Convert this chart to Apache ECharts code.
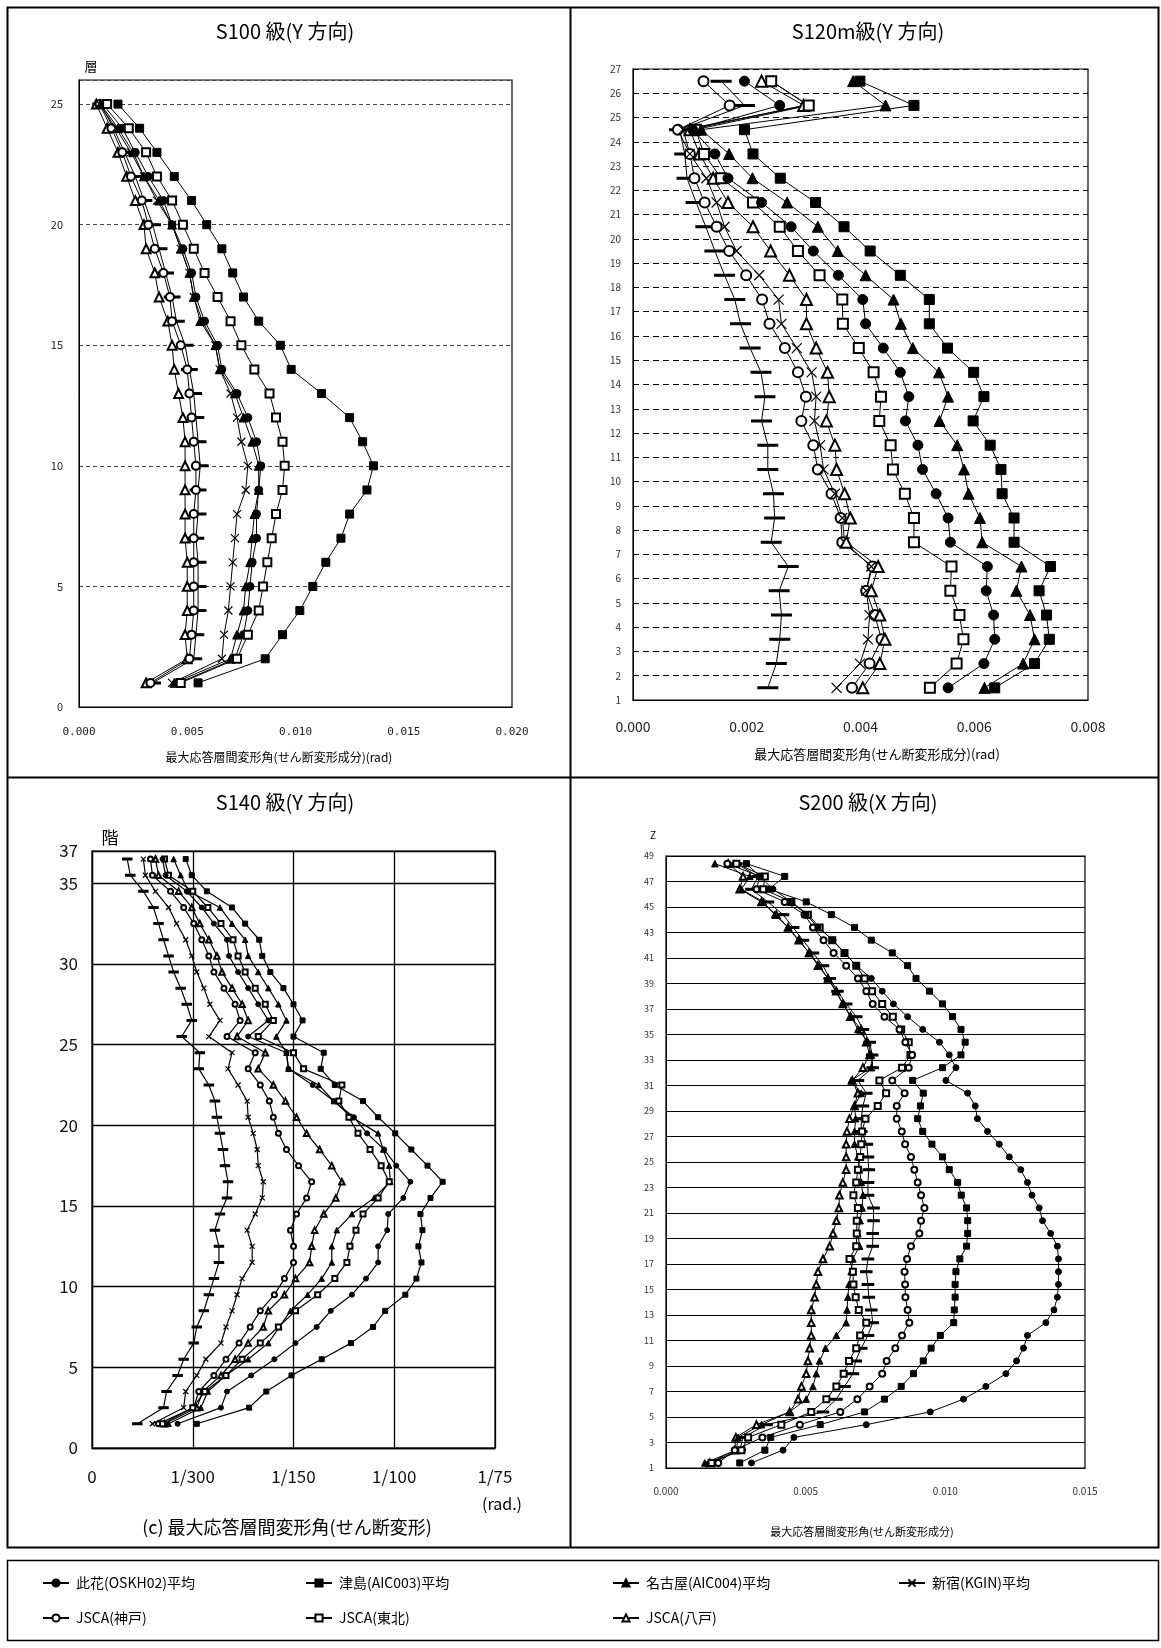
<!DOCTYPE html>
<html>
<head>
<meta charset="utf-8">
<script src="https://cdn.jsdelivr.net/npm/echarts@6/dist/echarts.min.js"></script>
<style>
html,body{margin:0;padding:0;background:#fff}
#c{width:1161px;height:1648px}
</style>
</head>
<body>
<div id="c"></div>
<script>
// ---- Storey levels -------------------------------------------------------
const s100Floors = [1,2,3,4,5,6,7,8,9,10,11,12,13,14,15,16,17,18,19,20,21,22,23,24,25];
const s120Floors = [1.5,2.5,3.5,4.5,5.5,6.5,7.5,8.5,9.5,10.5,11.5,12.5,13.5,14.5,15.5,16.5,17.5,18.5,19.5,20.5,21.5,22.5,23.5,24.5,25.5,26.5];
const s140Floors = [1.5,2.5,3.5,4.5,5.5,6.5,7.5,8.5,9.5,10.5,11.5,12.5,13.5,14.5,15.5,16.5,17.5,18.5,19.5,20.5,21.5,22.5,23.5,24.5,25.5,26.5,27.5,28.5,29.5,30.5,31.5,32.5,33.5,34.5,35.5,36.5];
const s200Floors = [1.4,2.4,3.4,4.4,5.4,6.4,7.4,8.4,9.4,10.4,11.4,12.4,13.4,14.4,15.4,16.4,17.4,18.4,19.4,20.4,21.4,22.4,23.4,24.4,25.4,26.4,27.4,28.4,29.4,30.4,31.4,32.4,33.4,34.4,35.4,36.4,37.4,38.4,39.4,40.4,41.4,42.4,43.4,44.4,45.4,46.4,47.4,48.4];

// ---- S100 (Y), drift in 1e-3 rad ----------------------------------------
const s100Konohana = [4.6,7.2,7.6,7.8,7.9,8.0,8.2,8.2,8.3,8.4,8.2,7.8,7.3,6.6,6.4,5.8,5.4,5.2,4.8,4.3,3.9,3.2,2.6,2.0,1.1];
const s100Tsushima = [5.5,8.6,9.4,10.2,10.8,11.4,12.1,12.5,13.3,13.6,13.1,12.5,11.2,9.8,9.3,8.3,7.6,7.1,6.6,5.9,5.2,4.4,3.6,2.8,1.8];
const s100Nagoya   = [4.4,7.0,7.3,7.6,7.7,7.9,8.0,8.1,8.3,8.3,8.0,7.6,7.2,6.5,6.3,5.6,5.3,5.1,4.7,4.3,3.7,3.0,2.5,1.8,1.0];
const s100Shinjuku = [4.3,6.6,6.7,6.9,7.0,7.1,7.2,7.3,7.7,7.8,7.5,7.3,7.0,6.5,6.3,5.7,5.3,5.1,4.7,4.3,3.6,3.0,2.4,1.7,0.95];
const s100Kobe     = [3.3,5.1,5.2,5.3,5.3,5.3,5.3,5.3,5.4,5.4,5.3,5.2,5.1,5.0,4.7,4.3,4.2,3.9,3.5,3.2,2.9,2.4,2.0,1.5,0.95];
const s100Tohoku   = [4.7,7.3,7.8,8.3,8.5,8.7,8.9,9.1,9.4,9.5,9.4,9.1,8.8,8.1,7.5,7.0,6.4,5.8,5.3,4.8,4.3,3.6,3.1,2.3,1.3];
const s100Hachinohe= [3.1,5.0,4.9,5.0,5.0,5.0,4.9,4.9,4.9,4.9,4.9,4.8,4.6,4.4,4.3,4.1,3.7,3.5,3.1,3.0,2.6,2.2,1.8,1.3,0.8];
const s100Extra    = [3.4,5.3,5.4,5.5,5.5,5.5,5.4,5.5,5.5,5.6,5.5,5.4,5.3,5.1,4.9,4.5,4.3,4.0,3.7,3.4,3.0,2.6,2.1,1.6,1.0];

// ---- S120m (Y), drift in 1e-3 rad ---------------------------------------
const s120Konohana = [5.54,6.17,6.36,6.34,6.21,6.23,5.58,5.54,5.33,5.09,5.01,4.79,4.85,4.70,4.40,4.09,4.04,3.61,3.17,2.78,2.26,1.67,1.44,1.05,2.58,1.96];
const s120Tsushima = [6.36,7.06,7.32,7.27,7.14,7.34,6.70,6.70,6.49,6.47,6.28,5.98,6.17,5.99,5.53,5.21,5.21,4.70,4.17,3.71,3.21,2.59,2.11,1.96,4.94,3.99];
const s120Nagoya   = [6.18,6.86,7.06,6.98,6.74,6.83,6.14,6.10,5.90,5.82,5.70,5.39,5.54,5.38,4.92,4.71,4.58,4.09,3.60,3.25,2.71,2.10,1.69,1.20,4.44,3.87];
const s120Shinjuku = [3.58,3.99,4.13,4.16,4.10,4.19,3.72,3.68,3.55,3.35,3.29,3.19,3.22,3.14,2.88,2.61,2.56,2.22,1.82,1.61,1.47,1.29,1.00,0.88,3.08,2.43];
const s120Kobe     = [3.85,4.16,4.37,4.25,4.10,4.21,3.68,3.65,3.49,3.25,3.17,2.96,3.04,2.90,2.67,2.40,2.27,1.99,1.69,1.47,1.26,1.08,1.00,0.79,1.70,1.24];
const s120Tohoku   = [5.22,5.69,5.81,5.74,5.58,5.60,4.94,4.94,4.78,4.57,4.53,4.33,4.36,4.23,3.97,3.69,3.68,3.28,2.90,2.58,2.11,1.55,1.25,1.10,3.09,2.43];
const s120Hachinohe= [4.04,4.34,4.43,4.34,4.19,4.31,3.75,3.82,3.72,3.58,3.55,3.40,3.45,3.42,3.22,3.05,3.05,2.75,2.42,2.11,1.67,1.41,1.17,1.00,3.00,2.26];
const s120Extra    = [2.37,2.52,2.58,2.61,2.57,2.73,2.43,2.49,2.47,2.37,2.37,2.26,2.32,2.25,2.06,1.89,1.79,1.61,1.44,1.28,1.11,0.95,0.91,0.82,1.96,1.55];

// ---- S140 (Y), drift in multiples of 1/300 rad --------------------------
const s140Konohana = [0.85,1.28,1.34,1.58,1.81,2.02,2.23,2.37,2.58,2.72,2.84,2.84,2.93,2.94,3.09,3.16,3.02,2.90,2.73,2.60,2.40,2.19,1.95,1.93,1.55,1.75,1.65,1.55,1.45,1.36,1.34,1.21,1.09,0.94,0.73,0.70];
const s140Tsushima = [1.04,1.56,1.73,1.98,2.28,2.57,2.79,2.91,3.11,3.22,3.27,3.24,3.28,3.26,3.36,3.48,3.33,3.17,3.01,2.84,2.69,2.41,2.27,2.30,2.00,2.09,2.00,1.90,1.77,1.69,1.66,1.52,1.39,1.14,0.99,0.93];
const s140Nagoya   = [0.76,1.08,1.15,1.33,1.55,1.75,1.86,1.97,2.14,2.28,2.38,2.38,2.43,2.58,2.80,2.96,2.95,2.89,2.84,2.58,2.40,2.25,1.95,1.93,1.83,1.93,1.85,1.75,1.65,1.55,1.52,1.39,1.27,0.96,0.88,0.81];
const s140Shinjuku = [0.60,0.91,0.93,1.04,1.13,1.28,1.33,1.39,1.44,1.49,1.59,1.59,1.54,1.62,1.69,1.70,1.65,1.64,1.60,1.55,1.54,1.45,1.35,1.39,1.16,1.27,1.17,1.11,1.04,0.99,0.93,0.84,0.76,0.63,0.53,0.51];
const s140Kobe     = [0.66,1.01,1.06,1.21,1.33,1.46,1.57,1.67,1.81,1.91,2.00,2.00,1.97,2.03,2.13,2.18,2.05,1.93,1.85,1.80,1.76,1.67,1.55,1.62,1.34,1.47,1.42,1.31,1.21,1.16,1.09,1.01,0.91,0.78,0.60,0.58];
const s140Tohoku   = [0.70,1.00,1.12,1.33,1.49,1.67,1.85,2.02,2.24,2.41,2.53,2.56,2.62,2.69,2.84,2.95,2.87,2.76,2.64,2.55,2.45,2.48,2.10,2.00,1.65,1.80,1.72,1.62,1.52,1.45,1.40,1.28,1.15,1.00,0.76,0.72];
const s140Hachinohe= [0.72,1.04,1.10,1.28,1.42,1.55,1.70,1.75,1.91,2.02,2.16,2.18,2.21,2.30,2.42,2.48,2.38,2.26,2.13,2.03,1.92,1.80,1.65,1.72,1.44,1.55,1.49,1.39,1.29,1.24,1.16,1.07,0.99,0.86,0.66,0.63];
const s140Extra    = [0.45,0.71,0.74,0.85,0.91,1.01,1.04,1.11,1.16,1.21,1.26,1.26,1.22,1.27,1.34,1.35,1.32,1.30,1.27,1.24,1.22,1.16,1.06,1.07,0.89,0.99,0.94,0.88,0.81,0.76,0.71,0.66,0.61,0.51,0.38,0.35];

// ---- S200 (X), drift in 1e-3 rad ----------------------------------------
const s200Konohana = [3.06,4.19,4.58,7.17,9.46,10.65,11.45,12.17,12.55,12.80,12.94,13.60,13.89,14.01,14.05,14.05,14.05,14.01,13.77,13.48,13.36,13.10,12.94,12.70,12.29,11.93,11.51,11.15,11.07,10.80,10.02,10.38,10.14,9.79,9.19,8.65,8.14,7.74,7.35,6.81,6.39,5.98,5.44,5.02,4.49,3.83,3.36,2.88];
const s200Tsushima = [2.64,3.54,3.75,5.52,7.11,7.82,8.42,8.86,9.21,9.49,9.82,10.30,10.32,10.35,10.35,10.38,10.52,10.76,10.80,10.80,10.76,10.57,10.44,10.14,9.90,9.52,9.19,9.01,9.11,9.21,8.83,9.90,10.56,10.71,10.56,10.26,9.90,9.43,8.95,8.65,8.10,7.35,6.75,5.92,5.02,3.69,4.25,2.88];
const s200Nagoya   = [1.39,2.52,2.58,3.42,4.43,5.02,5.26,5.38,5.50,5.71,6.10,6.45,6.48,6.51,6.55,6.63,6.69,6.93,6.87,6.95,7.02,7.05,6.99,6.93,6.87,6.75,6.75,6.79,6.75,6.99,6.63,7.35,7.35,7.23,6.87,6.63,6.33,6.07,5.80,5.48,5.14,4.73,4.37,3.89,3.48,2.70,3.00,1.75];
const s200Kobe     = [1.87,2.46,3.45,4.79,6.24,6.85,7.29,7.74,7.90,8.21,8.45,8.71,8.65,8.57,8.56,8.54,8.63,8.77,9.07,9.13,9.25,9.13,9.01,8.89,8.77,8.56,8.44,8.26,8.26,8.54,8.10,8.69,8.81,8.57,8.36,7.82,7.40,7.17,6.87,6.45,6.00,5.64,5.26,4.96,4.25,3.24,3.36,2.20];
const s200Tohoku   = [1.63,2.70,2.94,4.13,5.20,5.74,6.10,6.36,6.55,6.81,6.95,7.17,6.90,6.79,6.71,6.69,6.57,6.81,6.83,6.83,6.87,6.71,6.81,6.87,6.95,6.99,7.02,7.14,7.58,7.88,7.64,8.45,8.75,8.69,8.42,8.12,7.74,7.38,7.11,6.81,6.39,5.95,5.50,5.08,4.49,3.48,3.54,2.52];
const s200Hachinohe= [1.57,2.46,2.50,3.24,4.43,4.73,4.85,5.02,5.08,5.14,5.20,5.20,5.20,5.32,5.38,5.44,5.62,5.86,5.98,6.10,6.19,6.21,6.33,6.45,6.45,6.45,6.48,6.57,6.75,6.87,6.67,7.05,7.29,7.17,6.99,6.60,6.33,6.10,5.80,5.44,5.12,4.76,4.37,3.95,3.42,2.64,2.76,2.23];
const s200Extra    = [1.57,2.64,2.76,3.60,5.62,6.10,6.39,6.69,6.79,6.99,7.23,7.40,7.35,7.26,7.23,7.17,7.23,7.40,7.40,7.43,7.43,7.23,7.23,7.26,7.23,7.19,6.99,6.99,7.05,7.17,6.87,7.40,7.38,7.29,7.05,6.81,6.45,6.14,5.86,5.62,5.26,4.90,4.55,4.19,3.65,3.06,3.30,2.52];

// ---- Labels ---------------------------------------------------------------
const seriesNames = ['此花(OSKH02)平均','津島(AIC003)平均','名古屋(AIC004)平均','新宿(KGIN)平均','JSCA(神戸)','JSCA(東北)','JSCA(八戸)'];
const extraName = '参考';
const panelTitles = ['S100 級(Y 方向)','S120m級(Y 方向)','S140 級(Y 方向)','S200 級(X 方向)'];
const s140TickLabels = ['0','1/300','1/150','1/100','1/75'];

// ---- Marker styles ------------------------------------------------------
const FONT = '"Noto Sans CJK JP", "Noto Sans", sans-serif';
const markerStyle = {
  '此花(OSKH02)平均': {symbol:'circle', k:1},
  '津島(AIC003)平均': {symbol:'rect', k:1},
  '名古屋(AIC004)平均': {symbol:'triangle', k:1.1},
  '新宿(KGIN)平均': {symbol:'path://M0,0L10,10M10,0L0,10', k:1, bw:1.2},
  'JSCA(神戸)': {symbol:'emptyCircle', k:1},
  'JSCA(東北)': {symbol:'emptyRect', k:1},
  'JSCA(八戸)': {symbol:'emptyTriangle', k:1.1},
  '参考': {symbol:'rect', dash:true}
};

function buildSeries(idx, floors, table, size, lw) {
  return Object.keys(table).map(name => {
    const st = markerStyle[name];
    const sz = st.dash ? [size * 1.4, 2] : size * st.k;
    return {
      type: 'line', name, xAxisIndex: idx, yAxisIndex: idx,
      data: table[name].map((v, j) => [v, floors[j]]),
      symbol: st.symbol, symbolSize: sz, showSymbol: true,
      lineStyle: {color: '#000', width: lw},
      itemStyle: {color: '#000', borderColor: '#000', borderWidth: st.bw || 1},
      emphasis: {disabled: true}, animation: false, clip: false
    };
  });
}

const series = [].concat(
  buildSeries(0, s100Floors, {
    [extraName]: s100Extra, 'JSCA(八戸)': s100Hachinohe, 'JSCA(神戸)': s100Kobe, '新宿(KGIN)平均': s100Shinjuku,
    '名古屋(AIC004)平均': s100Nagoya, '此花(OSKH02)平均': s100Konohana, 'JSCA(東北)': s100Tohoku, '津島(AIC003)平均': s100Tsushima
  }, 8, 1),
  buildSeries(1, s120Floors, {
    [extraName]: s120Extra, 'JSCA(神戸)': s120Kobe, '新宿(KGIN)平均': s120Shinjuku, 'JSCA(八戸)': s120Hachinohe,
    'JSCA(東北)': s120Tohoku, '此花(OSKH02)平均': s120Konohana, '名古屋(AIC004)平均': s120Nagoya, '津島(AIC003)平均': s120Tsushima
  }, 10, 1),
  buildSeries(2, s140Floors, {
    [extraName]: s140Extra, '新宿(KGIN)平均': s140Shinjuku, 'JSCA(神戸)': s140Kobe, 'JSCA(八戸)': s140Hachinohe,
    '名古屋(AIC004)平均': s140Nagoya, 'JSCA(東北)': s140Tohoku, '此花(OSKH02)平均': s140Konohana, '津島(AIC003)平均': s140Tsushima
  }, 5, 1.2),
  buildSeries(3, s200Floors, {
    'JSCA(八戸)': s200Hachinohe, '名古屋(AIC004)平均': s200Nagoya, [extraName]: s200Extra, 'JSCA(東北)': s200Tohoku,
    'JSCA(神戸)': s200Kobe, '津島(AIC003)平均': s200Tsushima, '此花(OSKH02)平均': s200Konohana
  }, 6, 1)
);

// ---- Axes ---------------------------------------------------------------
const grids = [
  {left: 79, top: 80, width: 433, height: 627},
  {left: 633, top: 69, width: 455, height: 631},
  {left: 92, top: 851, width: 403, height: 597},
  {left: 666, top: 856, width: 419, height: 612}
].map(g => Object.assign({show: true, borderColor: '#000', borderWidth: 1.2, backgroundColor: '#fff'}, g));

const milli = v => (v / 1000).toFixed(3);
const xAxes = [
  {gridIndex: 0, type: 'value', min: 0, max: 20, interval: 5,
   axisLabel: {formatter: milli, fontSize: 11, color: '#222', margin: 20, fontFamily: 'DejaVu Sans Mono'},
   splitLine: {show: false}, axisTick: {show: false}, axisLine: {lineStyle: {color: '#000'}}},
  {gridIndex: 1, type: 'value', min: 0, max: 8, interval: 2,
   axisLabel: {formatter: milli, fontSize: 14, color: '#222', margin: 20, fontFamily: FONT},
   splitLine: {show: false}, axisTick: {show: false}, axisLine: {lineStyle: {color: '#000'}}},
  {gridIndex: 2, type: 'value', min: 0, max: 4, interval: 1,
   axisLabel: {formatter: v => s140TickLabels[Math.round(v)], fontSize: 17, color: '#111', margin: 20, fontFamily: FONT},
   splitLine: {show: true, lineStyle: {color: '#000', width: 1.3}}, axisTick: {show: false}, axisLine: {lineStyle: {color: '#000', width: 1.3}}},
  {gridIndex: 3, type: 'value', min: 0, max: 15, interval: 5,
   axisLabel: {formatter: milli, fontSize: 10, color: '#333', margin: 18, fontFamily: FONT},
   splitLine: {show: false}, axisTick: {show: false}, axisLine: {lineStyle: {color: '#000'}}}
];
const yAxes = [
  {gridIndex: 0, type: 'value', min: 0, max: 26, interval: 5,
   axisLabel: {formatter: v => (v % 5 === 0 ? String(v) : ''), fontSize: 11, color: '#222', margin: 16, fontFamily: FONT},
   splitLine: {show: true, lineStyle: {color: '#444', type: [4, 3], width: 1}}, axisTick: {show: false}, axisLine: {lineStyle: {color: '#000'}}},
  {gridIndex: 1, type: 'value', min: 1, max: 27, interval: 1,
   axisLabel: {fontSize: 10, color: '#333', margin: 12, fontFamily: FONT},
   splitLine: {show: true, lineStyle: {color: '#000', type: [6, 4], width: 1}}, axisTick: {show: false}, axisLine: {lineStyle: {color: '#000'}}},
  {gridIndex: 2, type: 'value', min: 0, max: 37, interval: 5,
   axisLabel: {customValues: [0, 5, 10, 15, 20, 25, 30, 35, 37], fontSize: 17, color: '#111', margin: 14, fontFamily: FONT},
   splitLine: {show: true, lineStyle: {color: '#000', width: 1.3}}, axisTick: {show: false}, axisLine: {lineStyle: {color: '#000', width: 1.3}}},
  {gridIndex: 3, type: 'value', min: 1, max: 49, interval: 2,
   axisLabel: {fontSize: 9, color: '#333', margin: 12, fontFamily: FONT},
   splitLine: {show: true, lineStyle: {color: '#000', width: 1.2}}, axisTick: {show: false}, axisLine: {lineStyle: {color: '#000'}}}
];

// ---- Legend (one component per entry, laid out in a 4-column box) -------
const legendPos = [[42, 1576], [305, 1576], [612, 1576], [898, 1576], [42, 1611], [305, 1611], [612, 1611]];
const legends = seriesNames.map((n, i) => ({
  data: [n], left: legendPos[i][0], top: legendPos[i][1], orient: 'horizontal',
  itemWidth: 26, itemHeight: 9, itemGap: 0, padding: 0, selectedMode: false,
  textStyle: {fontSize: 14, color: '#000', fontFamily: FONT, padding: [0, 0, 0, 2]}
}));

// ---- Frames and captions ------------------------------------------------
const txt = (x, y, text, size, extra) => ({
  type: 'text', x, y, silent: true,
  style: Object.assign({text, fontSize: size, fill: '#000', fontFamily: FONT, align: 'center', verticalAlign: 'middle'}, extra || {})
});
const ln = (x1, y1, x2, y2, w) => ({type: 'line', silent: true, shape: {x1, y1, x2, y2}, style: {stroke: '#000', lineWidth: w}});
const graphic = [
  {type: 'rect', silent: true, shape: {x: 7.5, y: 7.5, width: 1151, height: 1540}, style: {fill: 'none', stroke: '#000', lineWidth: 2}},
  ln(570.5, 7.5, 570.5, 1547.5, 2),
  ln(7.5, 777.5, 1158.5, 777.5, 2),
  {type: 'rect', silent: true, shape: {x: 7.5, y: 1560.5, width: 1151, height: 80}, style: {fill: 'none', stroke: '#000', lineWidth: 1.5}},
  txt(285, 31, panelTitles[0], 20),
  txt(868, 31, panelTitles[1], 20),
  txt(285, 802, panelTitles[2], 20),
  txt(868, 802, panelTitles[3], 20),
  txt(91, 66, '層', 13),
  txt(279, 757, '最大応答層間変形角(せん断変形成分)(rad)', 12),
  txt(877, 754, '最大応答層間変形角(せん断変形成分)(rad)', 13),
  txt(110, 838, '階', 17),
  txt(502, 1504, '(rad.)', 16),
  txt(287, 1527, '(c) 最大応答層間変形角(せん断変形)', 18),
  txt(653, 835, 'Z', 10),
  txt(862, 1532, '最大応答層間変形角(せん断変形成分)', 11)
];

const chart = echarts.init(document.getElementById('c'), null, {renderer: 'canvas'});
chart.setOption({
  backgroundColor: '#fff',
  animation: false,
  grid: grids,
  xAxis: xAxes,
  yAxis: yAxes,
  legend: legends,
  series,
  graphic
});
</script>
</body>
</html>
